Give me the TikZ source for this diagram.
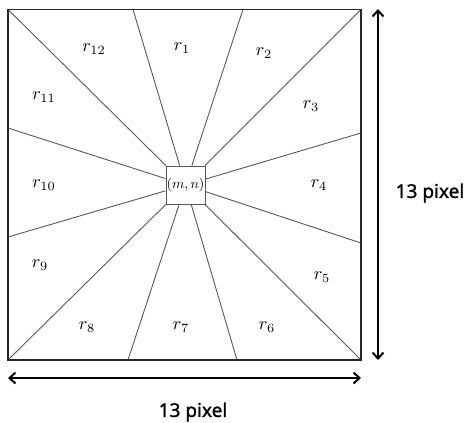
\documentclass[tikz,border=0pt]{standalone}
\usepackage{fontspec}
\setmainfont{Latin Modern Roman}
\newfontfamily\lblfont[FakeBold=1.2]{Noto Sans}
\usetikzlibrary{arrows.meta}
\begin{document}
\begin{tikzpicture}[x=1pt,y=-1pt,
  ray/.style={draw=black!65, line width=0.9pt},
  frame/.style={draw=black!85, line width=1.8pt},
  dimarrow/.style={line width=2.2pt, {Straight Barb[length=6pt,width=11pt,line width=2pt]}-{Straight Barb[length=6pt,width=11pt,line width=2pt]}},
  rlab/.style={inner sep=0pt},
  dimlab/.style={font=\lblfont\fontsize{19}{21}\selectfont, inner sep=0pt}]
\useasboundingbox (0,0) rectangle (467,423);
% outer points
\coordinate (o1) at (8,9.5);
\coordinate (o2) at (133,9.5);
\coordinate (o3) at (243,9.5);
\coordinate (o4) at (361,9.5);
\coordinate (o5) at (361,133);
\coordinate (o6) at (361,243);
\coordinate (o7) at (361,360);
\coordinate (o8) at (237,360);
\coordinate (o9) at (128,360);
\coordinate (o10) at (8,360);
\coordinate (o11) at (8,237);
\coordinate (o12) at (8,128);
% center square
\node[draw=black!65, line width=0.9pt, fill=white, minimum width=39pt, minimum height=38pt, inner sep=0pt] (c) at (185.5,185) {\scalebox{1.4}{$(m,n)$}};
% rays
\foreach \i in {1,...,12} { \draw[ray] (o\i) -- (c); }
% frame
\draw[frame] (o1) rectangle (o7);
% region labels
\newcommand{\rl}[1]{\scalebox{1.8}{$r_{#1}$}}
\node[rlab] (r12) at (94,49) {\rl{12}};
\node[rlab] (r1) at (182,48) {\rl{1}};
\node[rlab] (r2) at (264,53) {\rl{2}};
\node[rlab] (r3) at (311,106) {\rl{3}};
\node[rlab] (r11) at (44,97) {\rl{11}};
\node[rlab] (r10) at (44,185) {\rl{10}};
\node[rlab] (r4) at (319,185) {\rl{4}};
\node[rlab] (r9) at (40,265) {\rl{9}};
\node[rlab] (r5) at (322,277) {\rl{5}};
\node[rlab] (r8) at (87,327) {\rl{8}};
\node[rlab] (r7) at (181,327) {\rl{7}};
\node[rlab] (r6) at (267,327) {\rl{6}};
% dimension arrows
\coordinate (hL) at (8,378);
\coordinate (hR) at (361,378);
\coordinate (vT) at (378,9);
\coordinate (vB) at (378,360);
\draw[dimarrow] (hL) -- (hR);
\draw[dimarrow] (vT) -- (vB);
\node[dimlab] (wlab) at (193,412) {13 pixel};
\node[dimlab] (hlab) at (430,193) {13 pixel};
\end{tikzpicture}
\end{document}
